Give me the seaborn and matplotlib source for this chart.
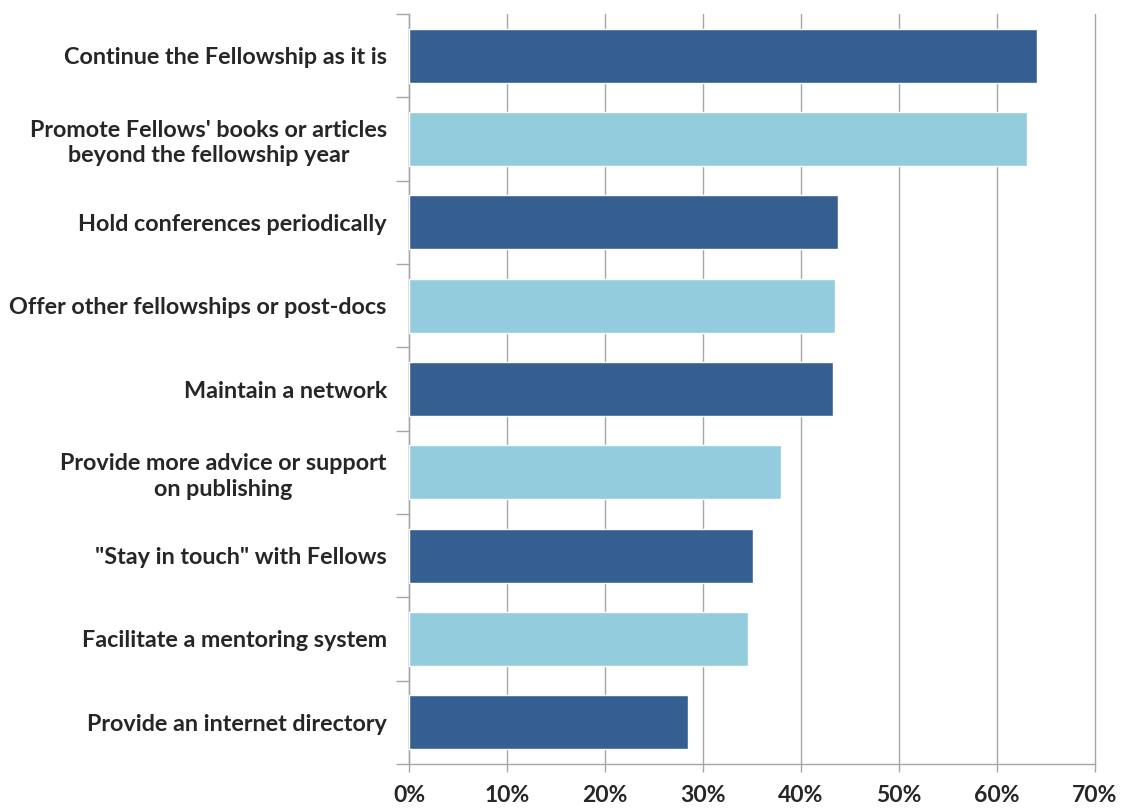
import matplotlib
matplotlib.use("Agg")
import matplotlib.pyplot as plt
import seaborn as sns
import pandas as pd
from matplotlib.ticker import FixedLocator, PercentFormatter

categories = [
    "Continue the Fellowship as it is",
    "Promote Fellows' books or articles\nbeyond the fellowship year",
    "Hold conferences periodically",
    "Offer other fellowships or post-docs",
    "Maintain a network",
    "Provide more advice or support\non publishing",
    "\"Stay in touch\" with Fellows",
    "Facilitate a mentoring system",
    "Provide an internet directory",
]
values = [64.1, 63.1, 43.8, 43.5, 43.3, 38.0, 35.1, 34.6, 28.5]
x_ticks = [0, 10, 20, 30, 40, 50, 60, 70]

dark_blue = "#365F91"
light_blue = "#93CDDD"
bar_colors = [dark_blue if i % 2 == 0 else light_blue for i in range(len(categories))]

df = pd.DataFrame({"option": categories, "share": values})

sns.set_theme(style="white")
plt.rcParams["font.family"] = ["Lato", "DejaVu Sans"]

fig = plt.figure(figsize=(11.21, 8.10), dpi=100)
ax = fig.add_axes([0.3649, 0.0568, 0.6119, 0.9259])

sns.barplot(data=df, x="share", y="option", hue="option", palette=bar_colors,
            legend=False, orient="h", width=0.65, saturation=1, ax=ax, zorder=3)

ax.set_xlim(0, 70)
ax.set_ylim(len(categories) - 0.5, -0.5)
ax.xaxis.set_major_locator(FixedLocator(x_ticks))
ax.xaxis.set_major_formatter(PercentFormatter(decimals=0))
ax.set_xlabel("")
ax.set_ylabel("")

# vertical gridlines (not clipped, so the 70% line at the edge is fully drawn)
ax.grid(axis="x", color="#A6A6A6", linewidth=1.0, zorder=0)
ax.grid(axis="y", visible=False)
for gl in ax.get_xgridlines():
    gl.set_clip_on(False)

for side in ["top", "right"]:
    ax.spines[side].set_visible(False)
for side in ["left", "bottom"]:
    ax.spines[side].set_visible(True)
    ax.spines[side].set_color("#A6A6A6")
    ax.spines[side].set_linewidth(1.0)

# category labels at bar centres, tick marks at category boundaries
ax.yaxis.set_minor_locator(FixedLocator([i - 0.5 for i in range(len(categories) + 1)]))
ax.tick_params(axis="y", which="major", length=0, pad=16, labelsize=16.8)
ax.tick_params(axis="y", which="minor", length=9.5, width=1.0, color="#A6A6A6", direction="out", left=True)
ax.tick_params(axis="x", which="major", length=6, width=1.0, color="#A6A6A6", direction="out",
               bottom=True, pad=9, labelsize=16.5)
for lbl in ax.get_yticklabels():
    lbl.set_fontweight("bold")
    lbl.set_horizontalalignment("right")
    lbl.set_multialignment("center")
    lbl.set_linespacing(1.25)
for lbl in ax.get_xticklabels():
    lbl.set_fontweight("bold")

fig.savefig("out.png", dpi=100, facecolor="white")
